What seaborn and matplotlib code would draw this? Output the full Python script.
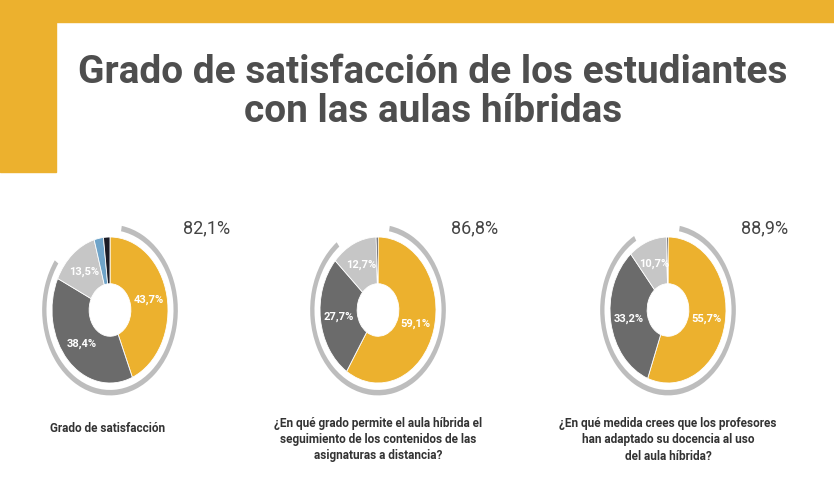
import matplotlib
matplotlib.use("Agg")
import matplotlib.pyplot as plt
import seaborn as sns

sns.set_theme(style="white")
plt.rcParams["font.family"] = ["Roboto", "DejaVu Sans"]

# ------------------------------------------------------------
# Data
# ------------------------------------------------------------
title = "Grado de satisfacción de los estudiantes\ncon las aulas híbridas"
captions = [
    "Grado de satisfacción",
    "¿En qué grado permite el aula híbrida el\nseguimiento de los contenidos de las\nasignaturas a distancia?",
    "¿En qué medida crees que los profesores\nhan adaptado su docencia al uso\ndel aula híbrida?",
]
totals = [82.1, 86.8, 88.9]
seg_1 = [43.7, 38.4, 13.5, 2.6, 1.8]
seg_2 = [59.1, 27.7, 12.7, 0.5]
seg_3 = [55.7, 33.2, 10.7, 0.4]
segments = [seg_1, seg_2, seg_3]

YELLOW = "#ECB12E"
DARK = "#6b6b6b"
LIGHT = "#c6c6c6"
BLUE = "#6fa4c9"
BLACK = "#1b1b25"
ARC = "#bdbdbd"
seg_colors = [
    [YELLOW, DARK, LIGHT, BLUE, BLACK],
    [YELLOW, DARK, LIGHT, BLACK],
    [YELLOW, DARK, LIGHT, BLACK],
]

W, H = 834, 479
fig = plt.figure(figsize=(W / 100, H / 100), dpi=100)
fig.patch.set_facecolor("white")

# yellow frame (top band + left band)
fig.add_artist(plt.Rectangle((0, 1 - 22 / H), 1, 22 / H, color=YELLOW, transform=fig.transFigure))
fig.add_artist(plt.Rectangle((0, 1 - 172 / H), 56 / W, 172 / H, color=YELLOW, transform=fig.transFigure))

fig.text(433 / W, 1 - 92 / H, title, ha="center", va="center", fontsize=28, fontweight="bold",
         color="#4e4e4e", linespacing=1.05)

# the source picture is stretched vertically, so donuts are drawn as ellipses
centers_x = [110, 378, 668]
cy = 310
RX, RY = 58, 73     # donut radii in px
lim = 1.5
hx, hy = RX * lim, RY * lim

for i in range(3):
    cx = centers_x[i]
    ax = fig.add_axes([(cx - hx) / W, 1 - (cy + hy) / H, 2 * hx / W, 2 * hy / H])
    ax.axis("off")

    # outer progress arc
    ax.pie([totals[i], 100 - totals[i]], radius=1.17, startangle=80, counterclock=False,
           colors=[ARC, "none"], wedgeprops=dict(width=0.075, linewidth=0))

    vals = segments[i]
    labels = [f"{v:.1f}%".replace(".", ",") if v > 5 else "" for v in vals]
    ax.pie(vals, radius=1.0, startangle=90, counterclock=False, colors=seg_colors[i],
           labels=labels, labeldistance=0.68,
           textprops=dict(color="white", fontsize=8, fontweight="bold", ha="center", va="center"),
           wedgeprops=dict(width=0.64, linewidth=0.6, edgecolor="white"))
    ax.set_aspect("auto")
    ax.set_xlim(-lim, lim)
    ax.set_ylim(-lim, lim)

    ax.text(1.26, 1.12, f"{totals[i]:.1f}%".replace(".", ","), ha="left", va="center",
            fontsize=13, color="#444444", clip_on=False)

# captions
fig.text(50 / W, 1 - 428 / H, captions[0], ha="left", va="center", fontsize=8.5,
         fontweight="bold", color="#333333")
fig.text(378 / W, 1 - 440 / H, captions[1], ha="center", va="center", fontsize=8.5,
         fontweight="bold", color="#333333", linespacing=1.3)
fig.text(668 / W, 1 - 440 / H, captions[2], ha="center", va="center", fontsize=8.5,
         fontweight="bold", color="#333333", linespacing=1.3)

fig.savefig("out.png", dpi=100)
